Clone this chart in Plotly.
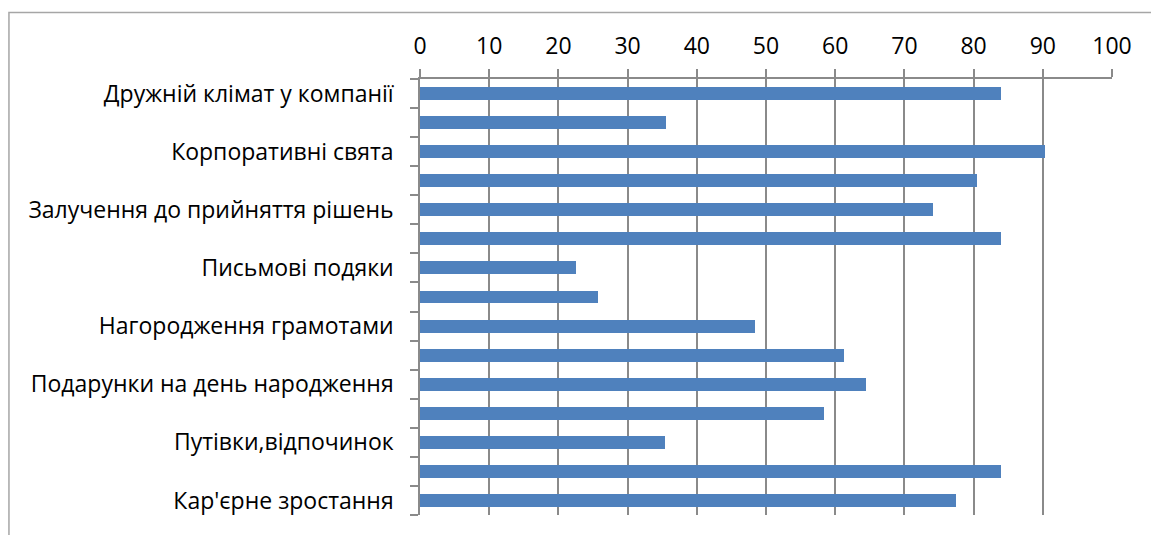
import plotly.graph_objects as go

categories = [
    "Дружній клімат у компанії", "",
    "Корпоративні свята", "",
    "Залучення до прийняття рішень", "",
    "Письмові подяки", "",
    "Нагородження грамотами", "",
    "Подарунки на день народження", "",
    "Путівки,відпочинок", "",
    "Кар'єрне зростання",
]
values = [84, 35.5, 90.3, 80.5, 74.2, 84, 22.6, 25.7, 48.4, 61.3, 64.5, 58.4, 35.4, 83.9, 77.4]
x_ticks = [0, 10, 20, 30, 40, 50, 60, 70, 80, 90, 100]

positions = list(range(1, len(categories) + 1))
label_pos = [p for p, c in zip(positions, categories) if c]
label_txt = [c for c in categories if c]
boundaries = [p - 0.5 for p in positions] + [positions[-1] + 0.5]

BAR = "#4F81BD"
GRID = "#8a8a8a"
FONT = "Open Sans"

fig = go.Figure(go.Bar(
    x=values, y=positions, orientation="h",
    marker=dict(color=BAR, line=dict(width=0)),
    width=0.444,
))

fig.update_layout(
    width=1151, height=535,
    margin=dict(l=420, r=39, t=79, b=20),
    paper_bgcolor="white", plot_bgcolor="white",
    font=dict(family=FONT, size=23, color="black"),
    showlegend=False,
    bargap=0,
)
fig.update_xaxes(
    side="top", range=[0, 100], tickvals=x_ticks,
    showgrid=True, gridcolor=GRID, gridwidth=1.5,
    showline=True, linecolor=GRID, linewidth=1.5,
    ticks="outside", ticklen=8, tickcolor=GRID, tickwidth=1.5,
    zeroline=False, fixedrange=True, ticklabelstandoff=6,
)
fig.update_yaxes(
    range=[positions[-1] + 0.5, 0.5], tickvals=label_pos, ticktext=label_txt,
    showgrid=False, zeroline=False,
    showline=True, linecolor=GRID, linewidth=1.5,
    ticks="", ticklabelstandoff=20,
    minor=dict(tickvals=boundaries, ticks="outside", ticklen=8, tickcolor=GRID, tickwidth=1.5, showgrid=False),
)
fig.add_shape(type="rect", xref="paper", yref="paper",
              x0=-0.594, x1=2.0, y0=-1.0, y1=1.1525,
              line=dict(color="#a6a6a6", width=1.5), layer="below")

fig.write_html("out.html")
